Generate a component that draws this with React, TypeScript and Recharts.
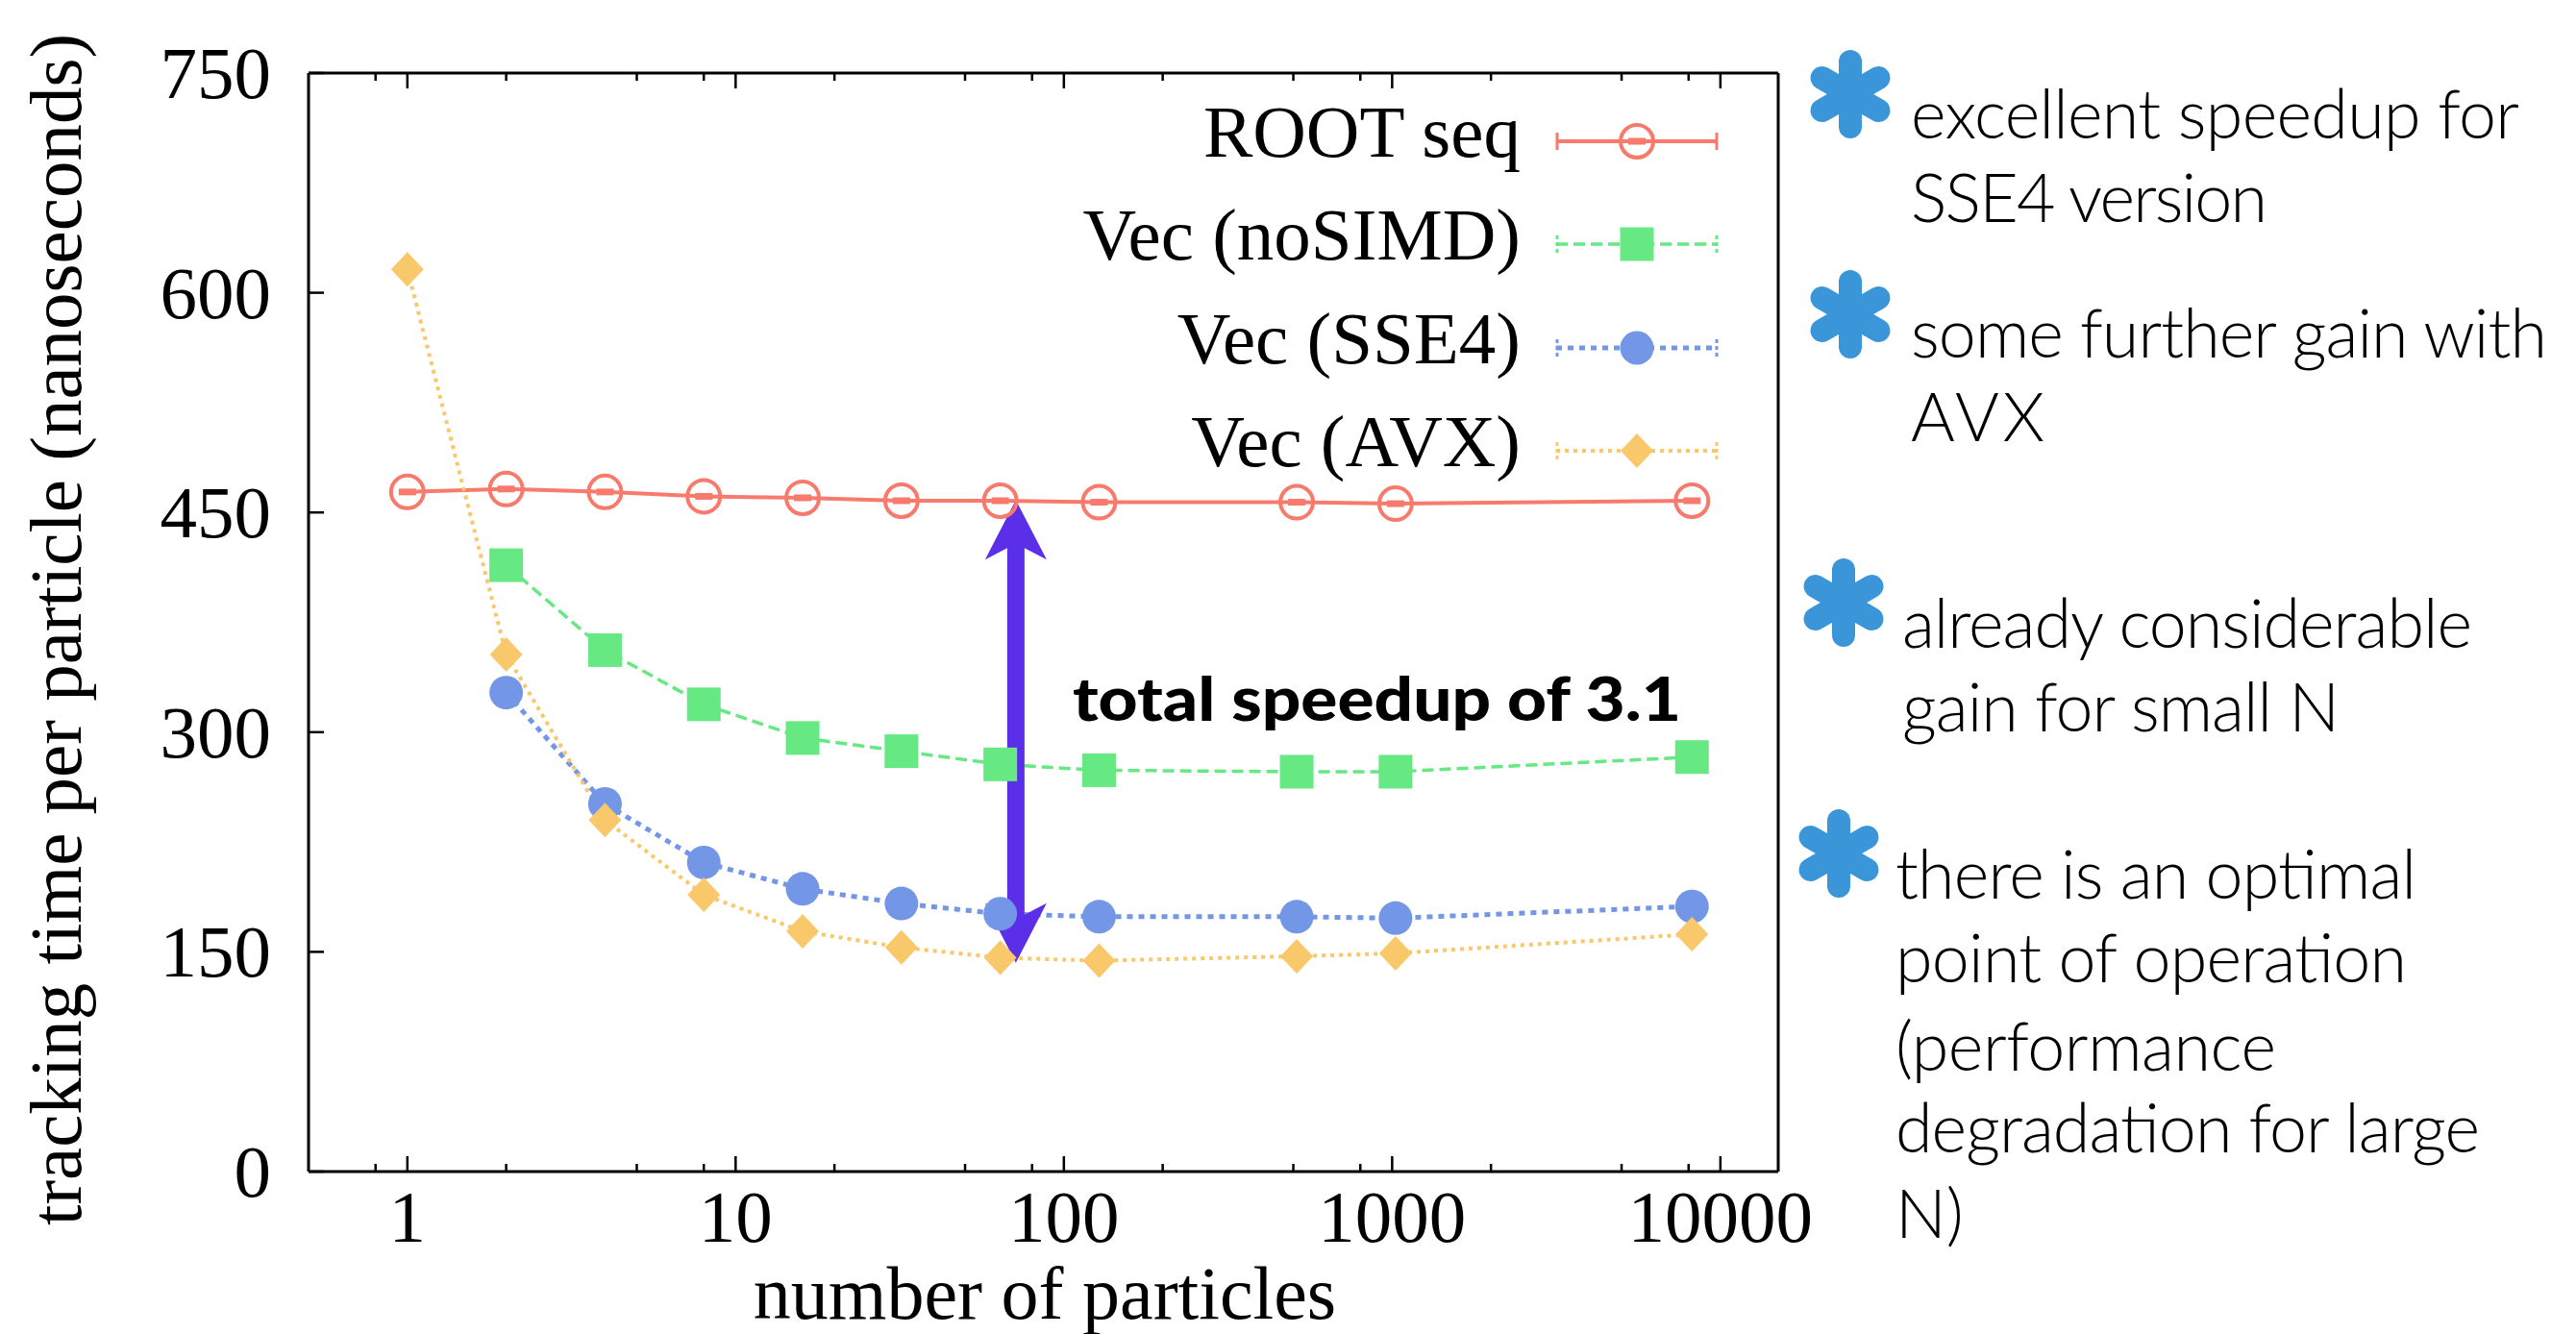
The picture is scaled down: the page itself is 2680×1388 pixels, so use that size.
import React from 'react';
import { LineChart, Line, XAxis, YAxis, ReferenceLine } from 'recharts';

// ---------- data ----------
const particles = [1, 2, 4, 8, 16, 32, 64, 128, 512, 1024, 8192];
const rootSeq = [464, 466, 464, 461, 460, 458, 458, 457, 457, 456, 458];
const vecNoSimd = [null, 414, 356, 319, 296, 287, 278, 274, 273, 273, 283];
const vecSse4 = [null, 327, 251, 211, 193, 183, 176, 174, 174, 173, 181];
const vecAvx = [616, 353, 240, 189, 164, 153, 146, 144, 147, 149, 162];

const seriesNames = ['ROOT seq', 'Vec (noSIMD)', 'Vec (SSE4)', 'Vec (AVX)'];
const xMajorTicks = [1, 10, 100, 1000, 10000];
const xMinorTicks = [0.8, 2, 5, 8, 20, 50, 80, 200, 500, 800, 2000, 5000, 8000];
const yTicks = [0, 150, 300, 450, 600, 750];
const xDomain = [0.5, 15000];
const yDomain = [0, 750];

const xTitle = 'number of particles';
const yTitle = 'tracking time per particle (nanoseconds)';
const speedupText = 'total speedup of 3.1';
const speedupArrow = { x: 71.4, yTop: 458.5, yBottom: 142.5 };

const notes = [
  ['excellent speedup for', 'SSE4 version'],
  ['some further gain with', 'AVX'],
  ['already considerable', 'gain for small N'],
  ['there is an optimal', 'point of operation', '(performance', 'degradation for large', 'N)'],
];

// ---------- styles ----------
const C = {
  root: '#F87A6C',
  noSimd: '#66E882',
  sse4: '#7397E6',
  avx: '#F8C86B',
  arrow: '#5B2EE8',
  star: '#3A96D9',
};
const SERIF = '"Liberation Serif", "Times New Roman", serif';
const SANS = 'Lato, "Open Sans", sans-serif';

const data = particles.map((n, i) => ({
  n,
  root: rootSeq[i],
  noSimd: vecNoSimd[i],
  sse4: vecSse4[i],
  avx: vecAvx[i],
}));
const xAllTicks = [...xMinorTicks, ...xMajorTicks].sort((a, b) => a - b);

// ---------- ticks ----------
const BottomTick = (p: any) => {
  const { x, y, payload } = p;
  const major = xMajorTicks.includes(payload.value);
  return (
    <g>
      <line x1={x} x2={x} y1={y} y2={y - (major ? 16 : 8)} stroke="#000" strokeWidth={2.5} />
      {major && (
        <text x={x} y={y + 73} textAnchor="middle" fontFamily={SERIF} fontSize={77} fill="#000">
          {payload.value}
        </text>
      )}
    </g>
  );
};
const TopTick = (p: any) => {
  const { x, y, payload } = p;
  const major = xMajorTicks.includes(payload.value);
  return <line x1={x} x2={x} y1={y} y2={y + (major ? 16 : 8)} stroke="#000" strokeWidth={2.5} />;
};
const LeftTick = (p: any) => {
  const { x, y, payload } = p;
  return (
    <g>
      <line x1={x} x2={x + 16} y1={y} y2={y} stroke="#000" strokeWidth={2.5} />
      <text x={x - 39} y={y + 26} textAnchor="end" fontFamily={SERIF} fontSize={77} fill="#000">
        {payload.value}
      </text>
    </g>
  );
};
const RightTick = (p: any) => {
  const { x, y } = p;
  return <line x1={x} x2={x - 16} y1={y} y2={y} stroke="#000" strokeWidth={2.5} />;
};

// ---------- markers ----------
const rootMarker = (cx: number, cy: number, k?: any) => (
  <g key={k}>
    <circle cx={cx} cy={cy} r={17} fill="none" stroke={C.root} strokeWidth={4} />
    <rect x={cx - 9} y={cy - 3.5} width={18} height={7} fill={C.root} />
  </g>
);
const squareMarker = (cx: number, cy: number, k?: any) => (
  <rect key={k} x={cx - 17.5} y={cy - 17.5} width={35} height={35} fill={C.noSimd} />
);
const circleMarker = (cx: number, cy: number, k?: any) => (
  <circle key={k} cx={cx} cy={cy} r={17.5} fill={C.sse4} />
);
const diamondMarker = (cx: number, cy: number, k?: any) => (
  <polygon
    key={k}
    points={`${cx},${cy - 18} ${cx + 17},${cy} ${cx},${cy + 18} ${cx - 17},${cy}`}
    fill={C.avx}
  />
);

const mkDot = (fn: any) => (p: any) => {
  const { cx, cy, index } = p;
  if (cx == null || cy == null || isNaN(cx) || isNaN(cy)) return <g key={`e${index}`} />;
  return fn(cx, cy, `d${index}`);
};

const seriesStyle = [
  { color: C.root, width: 4, dash: undefined as any, marker: rootMarker },
  { color: C.noSimd, width: 3.5, dash: '12 6', marker: squareMarker },
  { color: C.sse4, width: 5, dash: '6 6', marker: circleMarker },
  { color: C.avx, width: 4, dash: '4 5', marker: diamondMarker },
];

// ---------- arrow ----------
const ArrowShape = (p: any) => {
  const { x1, y1, y2 } = p;
  const x = x1;
  const hw = 32, hl = 62, notch = 50, sw = 9;
  const pts = [
    [x, y1],
    [x + hw, y1 + hl],
    [x + sw, y1 + notch],
    [x + sw, y2 - notch],
    [x + hw, y2 - hl],
    [x, y2],
    [x - hw, y2 - hl],
    [x - sw, y2 - notch],
    [x - sw, y1 + notch],
    [x - hw, y1 + hl],
  ]
    .map((q) => q.join(','))
    .join(' ');
  return <polygon points={pts} fill={C.arrow} />;
};

// ---------- asterisk ----------
const Asterisk = ({ cx, cy }: { cx: number; cy: number }) => {
  const L = 34;
  const angles = [90, 30, 150];
  return (
    <g>
      {angles.map((a) => {
        const r = (a * Math.PI) / 180;
        const dx = Math.cos(r) * L, dy = Math.sin(r) * L;
        return (
          <line
            key={a}
            x1={cx - dx}
            y1={cy - dy}
            x2={cx + dx}
            y2={cy + dy}
            stroke={C.star}
            strokeWidth={24}
            strokeLinecap="round"
          />
        );
      })}
    </g>
  );
};

const noteLayout = [
  { star: [1925, 98], x: 1988, baselines: [144, 231], widths: [633, 371] },
  { star: [1925, 327], x: 1988, baselines: [372, 459], widths: [662, 139] },
  { star: [1918, 627], x: 1979, baselines: [674, 761], widths: [593, 455] },
  { star: [1913, 888], x: 1972, baselines: [935, 1022, 1114, 1199, 1288], widths: [542, 532, 396, 608, 0] },
];

const legendRows = [147, 254, 362, 469];

export default function App() {
  return (
    <div style={{ position: 'absolute', left: 0, top: 0, width: 2680, height: 1388, background: '#fff' }}>
      <LineChart
        width={1900}
        height={1388}
        data={data}
        margin={{ top: 75, right: 40, bottom: 69, left: 100 }}
      >
        <XAxis
          xAxisId="bottom"
          dataKey="n"
          type="number"
          scale="log"
          domain={xDomain}
          allowDataOverflow
          ticks={xAllTicks}
          interval={0}
          tickSize={0}
          tickMargin={0}
          tickLine={false}
          tick={BottomTick}
          height={100}
          axisLine={{ stroke: '#000', strokeWidth: 3 }}
        />
        <XAxis
          xAxisId="top"
          orientation="top"
          dataKey="n"
          type="number"
          scale="log"
          domain={xDomain}
          allowDataOverflow
          ticks={xAllTicks}
          interval={0}
          tickSize={0}
          tickMargin={0}
          tickLine={false}
          tick={TopTick}
          height={1}
          axisLine={{ stroke: '#000', strokeWidth: 3 }}
        />
        <YAxis
          yAxisId="left"
          type="number"
          domain={yDomain}
          ticks={yTicks}
          interval={0}
          tickSize={0}
          tickMargin={0}
          tickLine={false}
          tick={LeftTick}
          width={221}
          axisLine={{ stroke: '#000', strokeWidth: 3 }}
        />
        <YAxis
          yAxisId="right"
          orientation="right"
          type="number"
          domain={yDomain}
          ticks={yTicks}
          interval={0}
          tickSize={0}
          tickMargin={0}
          tickLine={false}
          tick={RightTick}
          width={10}
          axisLine={{ stroke: '#000', strokeWidth: 3 }}
        />
        {(['root', 'noSimd', 'sse4', 'avx'] as const).map((k, i) => (
          <Line
            key={k}
            xAxisId="bottom"
            yAxisId="left"
            type="linear"
            dataKey={k}
            name={seriesNames[i]}
            stroke={seriesStyle[i].color}
            strokeWidth={seriesStyle[i].width}
            strokeDasharray={seriesStyle[i].dash}
            dot={mkDot(seriesStyle[i].marker)}
            activeDot={false}
            isAnimationActive={false}
          />
        ))}
        <ReferenceLine
          xAxisId="bottom"
          yAxisId="left"
          segment={[
            { x: speedupArrow.x, y: speedupArrow.yTop },
            { x: speedupArrow.x, y: speedupArrow.yBottom },
          ]}
          ifOverflow="visible"
          shape={ArrowShape}
        />
      </LineChart>

      <svg
        width={2680}
        height={1388}
        style={{ position: 'absolute', left: 0, top: 0, pointerEvents: 'none' }}
      >
        {/* legend */}
        {seriesNames.map((name, i) => {
          const y = legendRows[i];
          const s = seriesStyle[i];
          return (
            <g key={name}>
              <text x={1582} y={y + 16} textAnchor="end" fontFamily={SERIF} fontSize={77} fill="#000">
                {name}
              </text>
              <line x1={1619} x2={1787} y1={y} y2={y} stroke={s.color} strokeWidth={s.width} strokeDasharray={s.dash} />
              <line x1={1620} x2={1620} y1={y - 9} y2={y + 9} stroke={s.color} strokeWidth={3} strokeDasharray={i ? '4 3' : undefined} />
              <line x1={1786} x2={1786} y1={y - 9} y2={y + 9} stroke={s.color} strokeWidth={3} strokeDasharray={i ? '4 3' : undefined} />
              {s.marker(1703, y)}
            </g>
          );
        })}

        {/* axis titles */}
        <text x={1087} y={1372} textAnchor="middle" fontFamily={SERIF} fontSize={78} fill="#000">
          {xTitle}
        </text>
        <text
          transform="translate(84,655) rotate(-90)"
          x={0}
          y={0}
          textAnchor="middle"
          fontFamily={SERIF}
          fontSize={77}
          fill="#000"
        >
          {yTitle}
        </text>

        {/* speedup annotation */}
        <text
          x={1116}
          y={750}
          fontFamily={SANS}
          fontWeight={900}
          fontSize={62}
          textLength={633}
          lengthAdjust="spacingAndGlyphs"
          fill="#000"
        >
          {speedupText}
        </text>

        {/* side notes */}
        {notes.map((lines, i) => {
          const L = noteLayout[i];
          return (
            <g key={i}>
              <Asterisk cx={L.star[0]} cy={L.star[1]} />
              {lines.map((t, j) => (
                <text
                  key={j}
                  x={L.x}
                  y={L.baselines[j]}
                  fontFamily={SANS}
                  fontWeight={300}
                  fontSize={70}
                  textLength={L.widths[j] || undefined}
                  lengthAdjust={L.widths[j] ? 'spacing' : undefined}
                  fill="#000"
                >
                  {t}
                </text>
              ))}
            </g>
          );
        })}
      </svg>
    </div>
  );
}
